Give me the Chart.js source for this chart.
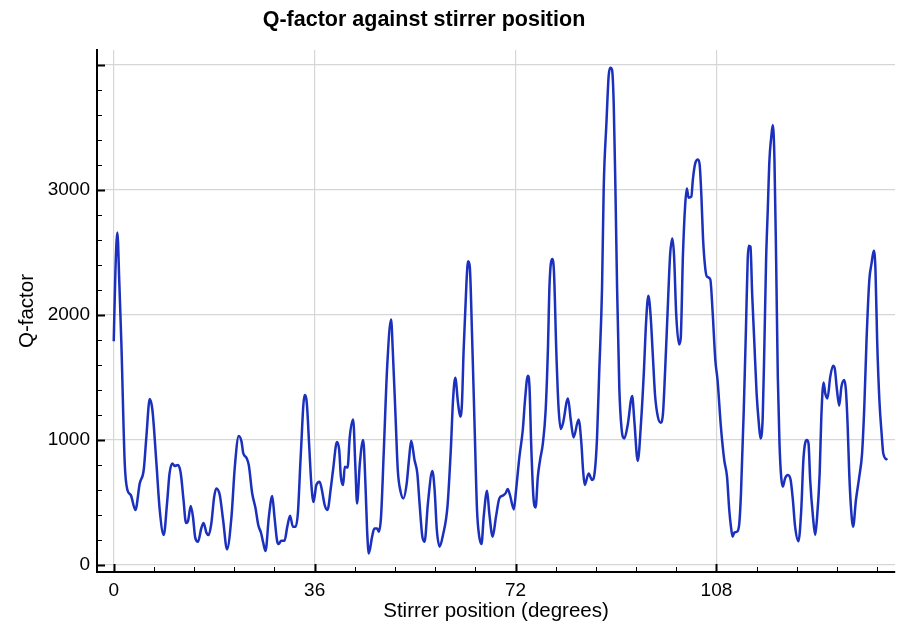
<!DOCTYPE html>
<html>
<head>
<meta charset="utf-8">
<script src="https://cdn.jsdelivr.net/npm/chart.js@4/dist/chart.umd.min.js"></script>
<style>
html, body { margin: 0; padding: 0; background: #fff; }
.chart_box { position: relative; width: 897px; height: 626px; }
.chart_title {
  position: absolute; top: 7px; left: 0; width: 848px;
  text-align: center; line-height: 24px;
  font: bold 21.5px "Liberation Sans", Arial, sans-serif; color: #000;
}
</style>
</head>
<body>
<div class="chart_box">
  <div class="chart_title">Q-factor against stirrer position</div>
  <canvas id="chart" width="897" height="626"></canvas>
</div>
<script>
var stirrerDeg = [
  0.0, 0.3, 0.65, 1.0, 1.37, 1.97, 2.45, 3.05, 3.88, 4.66, 5.37, 5.85, 6.45, 6.93, 7.65, 8.24, 8.96, 9.55,
  10.0, 10.5, 10.9, 11.5, 12.0, 12.5, 12.95, 13.3, 13.8, 14.2, 14.6, 15.1, 15.7, 16.1, 16.6, 17.0, 17.5,
  18.0, 18.4, 19.0, 19.6, 20.3, 21.1, 21.7, 22.4, 22.9, 23.2, 23.8, 24.2, 24.8, 25.4, 25.9, 26.4, 26.8,
  27.2, 27.8, 28.4, 28.8, 29.3, 29.6, 30.0, 30.6, 31.1, 31.6, 32.1, 32.6, 33.0, 33.5, 34.2, 34.6, 35.0,
  35.4, 35.8, 36.3, 36.9, 37.3, 37.8, 38.3, 38.9, 39.3, 40.0, 40.4, 40.7, 41.1, 41.4, 41.9, 42.3, 42.9,
  43.3, 43.6, 44.1, 44.7, 45.1, 45.4, 45.7, 46.3, 46.7, 47.2, 47.5, 47.9, 48.4, 49.0, 49.7, 50.0, 50.5,
  50.9, 51.4, 51.9, 52.5, 52.9, 53.3, 53.9, 54.4, 54.8, 55.3, 55.7, 56.3, 57.1, 57.5, 57.9, 58.4, 59.0,
  59.8, 60.4, 60.8, 61.2, 61.7, 62.1, 62.4, 62.7, 63.2, 63.5, 63.8, 64.2, 64.7, 65.1, 65.5, 65.9, 66.3,
  66.9, 67.3, 67.9, 68.5, 69.1, 69.7, 70.2, 70.6, 71.0, 71.7, 72.1, 72.7, 73.3, 73.7, 74.2, 74.5, 74.8,
  75.2, 75.6, 76.0, 76.4, 76.9, 77.4, 77.8, 78.1, 78.6, 78.9, 79.3, 79.7, 80.1, 80.5, 81.4, 81.9, 82.4,
  83.3, 83.8, 84.1, 84.4, 85.1, 85.7, 86.2, 86.6, 87.0, 87.5, 87.8, 88.3, 88.7, 89.0, 89.3, 89.6, 89.9,
  90.2, 90.6, 91.0, 91.5, 92.1, 92.9, 93.3, 93.9, 94.5, 95.0, 95.4, 95.8, 96.2, 96.6, 97.0, 97.5, 98.0,
  98.4, 98.8, 99.3, 99.7, 100.1, 100.4, 100.8, 101.3, 101.6, 102.0, 102.4, 102.7, 103.0, 103.5, 103.8,
  104.2, 104.7, 105.0, 105.3, 105.6, 106.0, 106.3, 106.9, 107.3, 107.8, 108.2, 108.8, 109.4, 109.9,
  110.3, 110.6, 110.9, 111.2, 111.7, 112.1, 112.4, 112.9, 113.3, 113.6, 113.8, 114.1, 114.4, 114.8,
  115.2, 115.6, 115.9, 116.3, 116.6, 116.9, 117.2, 117.5, 117.8, 118.1, 118.4, 118.7, 119.0, 119.3,
  119.6, 119.9, 120.3, 120.8, 121.3, 121.7, 122.1, 122.7, 123.2, 123.6, 124.2, 124.5, 124.8, 125.3,
  125.7, 126.0, 126.5, 126.8, 127.2, 127.5, 127.9, 128.4, 128.9, 129.2, 129.6, 130.0, 130.4, 130.9,
  131.2, 131.5, 131.8, 132.1, 132.5, 133.0, 133.6, 134.1, 134.5, 134.9, 135.4, 135.8, 136.2, 136.5,
  136.8, 137.2, 137.6, 137.9, 138.6
];
var qFactor = [
  1790, 2350, 2660, 2260, 1770, 814, 600, 560, 440, 653, 760, 1027, 1328, 1240, 813, 440, 240, 493,
  733, 813, 792, 800, 736, 523, 336, 350, 472, 384, 219, 187, 296, 336, 259, 240, 336,
  547, 613, 560, 360, 125, 387, 787, 1032, 987, 896, 856, 800, 576, 456, 320, 256, 176,
  112, 387, 552, 387, 187, 168, 195, 195, 307, 395, 307, 307, 416, 867, 1360, 1293, 976,
  653, 504, 640, 667, 600, 480, 440, 616, 760, 984, 920, 707, 640, 787, 780, 1027, 1165,
  787, 493, 813, 1000, 653, 280, 93, 227, 293, 293, 267, 387, 920, 1587, 1965, 1720, 1187,
  760, 587, 533, 653, 840, 995, 840, 733, 493, 227, 187, 493, 752, 600, 280, 147, 240,
  467, 920, 1320, 1499, 1293, 1187, 1293, 1720, 2253, 2430, 2387, 1853, 1053, 440, 227, 168, 387,
  595, 413, 227, 387, 533, 555, 573, 608, 560, 445, 600, 867, 1080, 1320, 1515, 1427, 973,
  547, 461, 707, 840, 973, 1240, 1720, 2253, 2448, 2333, 1720, 1267, 1088, 1133, 1333, 1160, 1021,
  1165, 973, 760, 640, 733, 680, 747, 1013, 1547, 2213, 3013, 3547, 3920, 3979, 3960, 3680, 3013,
  2213, 1413, 1093, 1013, 1120, 1352, 1147, 832, 1147, 1547, 1947, 2155, 2000, 1680, 1360, 1187, 1139,
  1200, 1547, 2080, 2480, 2613, 2480, 2000, 1765, 1813, 2480, 2880, 3013, 2939, 2947, 3093,
  3213, 3245, 3200, 2960, 2613, 2373, 2307, 2285, 2040, 1640, 1480, 1107, 840, 707,
  440, 307, 227, 259, 267, 333, 573, 1240, 1907, 2440, 2555, 2547, 2173, 1773,
  1373, 1133, 1013, 1187, 1773, 2440, 2840, 3240, 3413, 3520, 3240, 2440, 1507, 973,
  707, 627, 693, 720, 680, 520, 307, 190, 440, 853, 1000, 973, 680, 387,
  240, 360, 733, 1187, 1461, 1373, 1333, 1507, 1595, 1573, 1400, 1275, 1427, 1480,
  1400, 1133, 733, 467, 307, 520, 707, 893, 1267, 1800, 2280, 2413, 2515, 2360,
  1800, 1320, 1053, 893, 840
];

// axis ticks
var xTickValues = [0, 7.2, 14.4, 21.6, 28.8, 36, 43.2, 50.4, 57.6, 64.8, 72, 79.2, 86.4, 93.6, 100.8, 108, 115.2, 122.4, 129.6, 136.8];
var xTickLabels = [0, 36, 72, 108];
var yTickValues = [0, 200, 400, 600, 800, 1000, 1200, 1400, 1600, 1800, 2000, 2200, 2400, 2600, 2800, 3000, 3200, 3400, 3600, 3800, 4000];
var yTickLabels = [0, 1000, 2000, 3000];
var yGridValues = [0, 1000, 2000, 3000, 4000];

Chart.defaults.font.family = '"Liberation Sans", Arial, sans-serif';
Chart.defaults.color = '#000';

function isIn(list, v){
  for (var i = 0; i < list.length; i++) {
    if (Math.abs(list[i] - v) < 1e-6) return true;
  }
  return false;
}

// ticks in this chart point inwards, so draw them ourselves
var innerTicks = {
  id: 'innerTicks',
  afterDraw: function(chart){
    var ctx = chart.ctx;
    var area = chart.chartArea;
    var xs = chart.scales.x, ys = chart.scales.y;
    ctx.save();
    ctx.strokeStyle = '#000';
    xs.ticks.forEach(function(t){
      var px = Math.round(xs.getPixelForValue(t.value)) + 0.5;
      var major = isIn(xTickLabels, t.value);
      ctx.lineWidth = major ? 2 : 1;
      ctx.beginPath();
      ctx.moveTo(px, area.bottom);
      ctx.lineTo(px, area.bottom - (major ? 8 : 5));
      ctx.stroke();
    });
    ys.ticks.forEach(function(t){
      var py = Math.round(ys.getPixelForValue(t.value)) + 0.5;
      var major = isIn(yGridValues, t.value);
      ctx.lineWidth = major ? 2 : 1;
      ctx.beginPath();
      ctx.moveTo(area.left, py);
      ctx.lineTo(area.left + (major ? 8 : 5), py);
      ctx.stroke();
    });
    ctx.restore();
  }
};

function RenderChart(){
  var points = stirrerDeg.map(function(d, i){ return {x: d, y: qFactor[i]}; });
  var ctx = document.getElementById('chart');

  new Chart(ctx, {
    type: 'line',
    data: {
      datasets: [{
        data: points,
        borderColor: '#1b30bd',
        borderWidth: 2.5,
        pointRadius: 0,
        cubicInterpolationMode: 'monotone',
        fill: false
      }]
    },
    options: {
      responsive: false,
      animation: false,
      layout: { padding: { top: 50, right: 2, left: 0, bottom: 0 } },
      plugins: {
        legend: { display: false },
        tooltip: { enabled: false },
        title: { display: false }
      },
      scales: {
        x: {
          type: 'linear',
          min: -3,
          max: 140,
          afterBuildTicks: function(scale){
            scale.ticks = xTickValues.map(function(v){ return {value: v}; });
          },
          afterFit: function(scale){ scale.height = 54; },
          grid: {
            drawTicks: false,
            lineWidth: 1.2,
            color: function(c){ return isIn(xTickLabels, c.tick.value) ? '#d6d6d6' : 'rgba(0,0,0,0)'; }
          },
          border: { color: '#000', width: 2 },
          ticks: {
            autoSkip: false,
            maxRotation: 0,
            padding: 7,
            font: { size: 19 },
            callback: function(v){ return isIn(xTickLabels, v) ? String(v) : ''; }
          },
          title: {
            display: true,
            text: 'Stirrer position (degrees)',
            font: { size: 20.5 },
            padding: { top: 0, bottom: 2 }
          }
        },
        y: {
          min: -56,
          max: 4120,
          afterBuildTicks: function(scale){
            scale.ticks = yTickValues.map(function(v){ return {value: v}; });
          },
          afterFit: function(scale){ scale.width = 97; },
          grid: {
            drawTicks: false,
            lineWidth: 1.2,
            color: function(c){ return isIn(yGridValues, c.tick.value) ? '#d6d6d6' : 'rgba(0,0,0,0)'; }
          },
          border: { color: '#000', width: 2 },
          ticks: {
            autoSkip: false,
            padding: 7,
            font: { size: 19 },
            callback: function(v){ return isIn(yTickLabels, v) ? String(v) : ''; }
          },
          title: {
            display: true,
            text: 'Q-factor',
            font: { size: 20.5 },
            padding: { top: 15.5, bottom: 0 }
          }
        }
      }
    },
    plugins: [innerTicks]
  });
}

RenderChart();
</script>
</body>
</html>
